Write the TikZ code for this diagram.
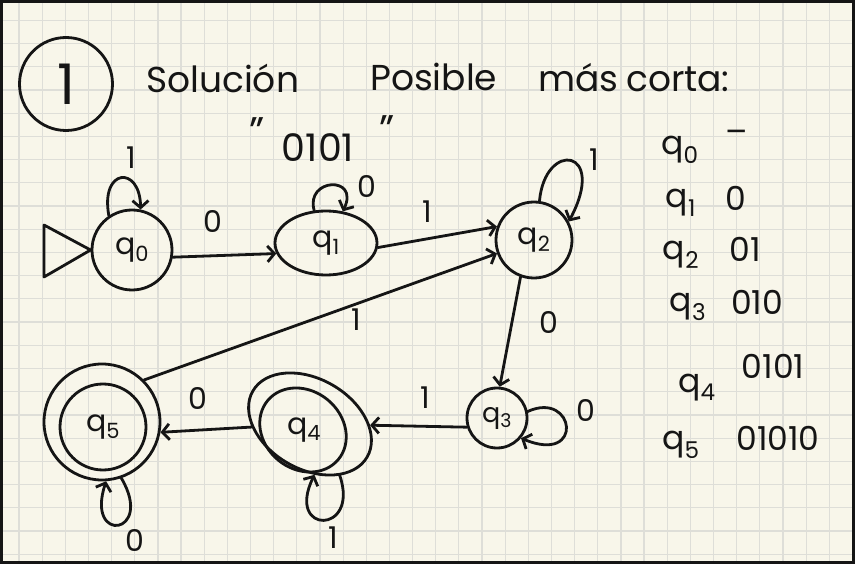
\documentclass[tikz,border=0pt]{standalone}
\usepackage{fontspec}
\setmainfont{Poppins}
\usetikzlibrary{arrows.meta,shapes.geometric}
\definecolor{paper}{HTML}{F8F6EA}
\definecolor{gridc}{HTML}{DEDED8}
\definecolor{ink}{HTML}{151515}
\begin{document}
\begin{tikzpicture}[x=1pt,y=-1pt,
  inkline/.style={line width=2.8pt, draw=ink, line cap=round, line join=round},
  state/.style={inkline, circle, inner sep=0pt, font=\fontsize{30}{30}\selectfont, text=ink},
  estate/.style={inkline, ellipse, inner sep=0pt, font=\fontsize{30}{30}\selectfont, text=ink},
  arr/.style={inkline, -{Straight Barb[length=7pt,width=16pt,line width=2.8pt]}},
  lbl/.style={font=\fontsize{30}{30}\selectfont, text=ink, inner sep=0pt},
  tbl/.style={font=\fontsize{33}{33}\selectfont, text=ink, inner sep=0pt},
  title/.style={font=\fontsize{36}{36}\selectfont, text=ink, inner sep=0pt, anchor=base west},
]
\useasboundingbox (0,0) rectangle (855,564);
\fill[paper] (0,0) rectangle (855,564);
\foreach \i in {0,...,36} \draw[gridc, line width=1.2pt] ({19+23.15*\i},0) -- ({19+23.15*\i},564);
\foreach \j in {0,...,23} \draw[gridc, line width=1.2pt] (0,{20.5+23.2*\j}) -- (855,{20.5+23.2*\j});

% title
\node[inkline, circle, minimum size=93pt, inner sep=0pt, font=\fontsize{56}{56}\selectfont, text=ink] (one) at (66,84) {1};
\node[title] (w1) at (146,93) {Solución};
\node[title] (w2) at (370,91) {Posible};
\node[title] (w3) at (538,92) {más};
\node[title] (w4) at (626,92) {corta:};
\node[font=\fontsize{40}{40}\selectfont, text=ink, inner sep=0pt] (ql) at (257,132) {"};
\node[font=\fontsize{40}{40}\selectfont, text=ink, inner sep=0pt] (qr) at (387,130) {"};
\node[font=\fontsize{38}{38}\selectfont, text=ink, inner sep=0pt] (word) at (318,148) {0101};

% states
\node[state, minimum size=80pt] (q0) at (132,250) {q\textsubscript{0}};
\node[estate, minimum width=102pt, minimum height=64pt] (q1) at (326,243) {q\textsubscript{1}};
\node[state, minimum size=76pt] (q2) at (534,240) {q\textsubscript{2}};
\node[state, minimum size=60pt, font=\fontsize{27}{27}\selectfont] (q3) at (497,418) {q\textsubscript{3}};
\node[estate, minimum width=132pt, minimum height=90pt, rotate=-30] (q4) at (310,424) {};
\node[estate, minimum width=92pt, minimum height=78pt, rotate=-40] (q4i) at (303,430) {};
\node[lbl] (q4t) at (304,430) {q\textsubscript{4}};
\node[state, minimum size=116pt] (q5) at (102,422) {};
\node[state, minimum size=86pt] (q5i) at (103,427) {q\textsubscript{5}};

% initial marker
\draw[inkline] (44,225) -- (44,277) -- (q0.west) -- cycle;

% transitions
\draw[arr] (q0.-10) -- (q1.-168);
\node[lbl] at (213,221) {0};
\draw[arr] (q1.-5) -- (q2.160);
\node[lbl] at (427,212) {1};
\draw[arr] (q5.45) -- (q2.200);
\node[lbl] at (356,320) {1};
\draw[arr] (q2.-110) -- (q3.85);
\node[lbl] at (549,322) {0};
\draw[arr] (q3.197) -- (q4);
\node[lbl] at (425,398) {1};
\draw[arr] (q4.213) -- (q5.-10);
\node[lbl] at (198,398) {0};

% loops
\draw[arr] (q0.124) .. controls (100,168) and (140,165) .. (q0.78);
\node[lbl] at (131,158) {1};
\draw[arr] (q1.110) .. controls (305,178) and (360,175) .. (q1.62);
\node[lbl] at (367,186) {0};
\draw[arr] (q2.82) .. controls (545,140) and (608,148) .. (q2.28);
\node[lbl] at (594,160) {1};
\draw[arr] (q3.12) .. controls (575,390) and (585,465) .. (q3.-40);
\node[lbl] at (586,410) {0};
\draw[arr] (q4.-30) .. controls (360,535) and (285,535) .. (q4.-55);
\node[lbl] at (333,538) {1};
\draw[arr] (q5.-71) .. controls (155,535) and (85,545) .. (q5.-86);
\node[lbl] at (135,540) {0};

% table
\node[tbl] (t0) at (680,150) {q\textsubscript{0}};
\node[tbl] (v0) at (737,137) {–};
\node[tbl] (t1) at (681,203) {q\textsubscript{1}};
\node[tbl] (v1) at (736,198) {0};
\node[tbl] (t2) at (681,255) {q\textsubscript{2}};
\node[tbl] (v2) at (745,249) {01};
\node[tbl] (t3) at (688,307) {q\textsubscript{3}};
\node[tbl] (v3) at (757,302) {010};
\node[tbl] (t4) at (697,388) {q\textsubscript{4}};
\node[tbl] (v4) at (773,366) {0101};
\node[tbl] (t5) at (681,445) {q\textsubscript{5}};
\node[tbl] (v5) at (778,438) {01010};

\draw[line width=3pt, draw=ink] (1.5,1.5) rectangle (853.5,562.5);
\end{tikzpicture}
\end{document}
